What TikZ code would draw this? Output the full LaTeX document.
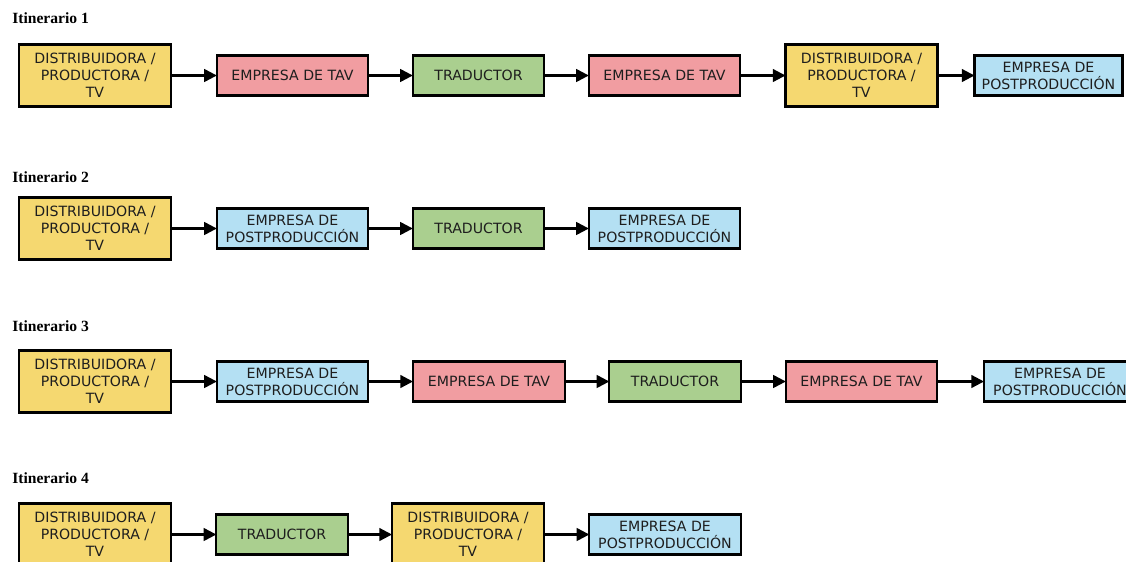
\documentclass[tikz,border=0pt]{standalone}
\usepackage{fontspec}
\setmainfont{Liberation Serif}
\newfontfamily\boxfont{DejaVu Sans}
\usetikzlibrary{arrows.meta}

\definecolor{cyellow}{RGB}{245,216,112}
\definecolor{cpink}{RGB}{241,157,161}
\definecolor{cgreen}{RGB}{170,207,143}
\definecolor{cblue}{RGB}{180,224,243}
\definecolor{ctext}{RGB}{30,30,30}

\tikzset{
  box/.style={draw=black, line width=1.6pt, inner sep=0pt, outer sep=0pt,
    align=center, text=ctext,
    font=\boxfont\fontsize{10.6}{12.7}\selectfont},
  dist/.style={box, fill=cyellow, minimum width=114pt, minimum height=46.5pt},
  tav/.style={box, fill=cpink, minimum width=113.5pt, minimum height=30pt},
  post/.style={box, fill=cblue, minimum width=113.5pt, minimum height=30pt},
  trad/.style={box, fill=cgreen, minimum width=98.5pt, minimum height=30pt},
  arr/.style={line width=1.7pt, -{Triangle[length=9.5pt,width=9.5pt]}},
  itin/.style={anchor=west, inner sep=0pt, font=\bfseries\fontsize{11.7}{13}\selectfont}
}

\newcommand{\distlabel}{DISTRIBUIDORA /\\PRODUCTORA /\\TV}
\newcommand{\postlabel}{EMPRESA DE\\POSTPRODUCCIÓN}
% horizontal connector from box #1 to box #2
\newcommand{\link}[2]{\draw[arr] (#1.east |- #2.west) -- (#2.west);}

\begin{document}
\begin{tikzpicture}[x=0.75pt,y=-0.75pt]
  \useasboundingbox (0,0) rectangle (1126,561);
  \clip (0,0) rectangle (1126,561);

  % Itinerario 1
  \node[itin] (t1) at (12,18.5) {Itinerario 1};
  \node[dist] (a1) at (95,75.5) {\distlabel};
  \node[tav]  (a2) at (292.5,75.5) {EMPRESA DE TAV};
  \node[trad] (a3) at (478.5,75.5) {TRADUCTOR};
  \node[tav]  (a4) at (664.5,75.5) {EMPRESA DE TAV};
  \node[dist] (a5) at (861.5,75.5) {\distlabel};
  \node[post, minimum width=111pt] (a6) at (1048.5,75.5) {\postlabel};
  \foreach \u/\v in {a1/a2,a2/a3,a3/a4,a4/a5,a5/a6}{\link{\u}{\v}}

  % Itinerario 2
  \node[itin] (t2) at (12,177) {Itinerario 2};
  \node[dist] (b1) at (95,228.5) {\distlabel};
  \node[post] (b2) at (292.5,228.5) {\postlabel};
  \node[trad] (b3) at (478.5,228.5) {TRADUCTOR};
  \node[post] (b4) at (664.5,228.5) {\postlabel};
  \foreach \u/\v in {b1/b2,b2/b3,b3/b4}{\link{\u}{\v}}

  % Itinerario 3
  \node[itin] (t3) at (12,326) {Itinerario 3};
  \node[dist] (c1) at (95,381.5) {\distlabel};
  \node[post] (c2) at (292.5,381.5) {\postlabel};
  \node[tav, minimum width=114pt]  (c3) at (489,381.5) {EMPRESA DE TAV};
  \node[trad] (c4) at (675,381.5) {TRADUCTOR};
  \node[tav]  (c5) at (861.5,381.5) {EMPRESA DE TAV};
  \node[post, minimum width=114pt] (c6) at (1060,381.5) {\postlabel};
  \foreach \u/\v in {c1/c2,c2/c3,c3/c4,c4/c5,c5/c6}{\link{\u}{\v}}

  % Itinerario 4
  \node[itin] (t4) at (12,478) {Itinerario 4};
  \node[dist] (d1) at (95,534.5) {\distlabel};
  \node[trad] (d2) at (282,534.5) {TRADUCTOR};
  \node[dist] (d3) at (468,534.5) {\distlabel};
  \node[post] (d4) at (665,534.5) {\postlabel};
  \foreach \u/\v in {d1/d2,d2/d3,d3/d4}{\link{\u}{\v}}
\end{tikzpicture}
\end{document}
